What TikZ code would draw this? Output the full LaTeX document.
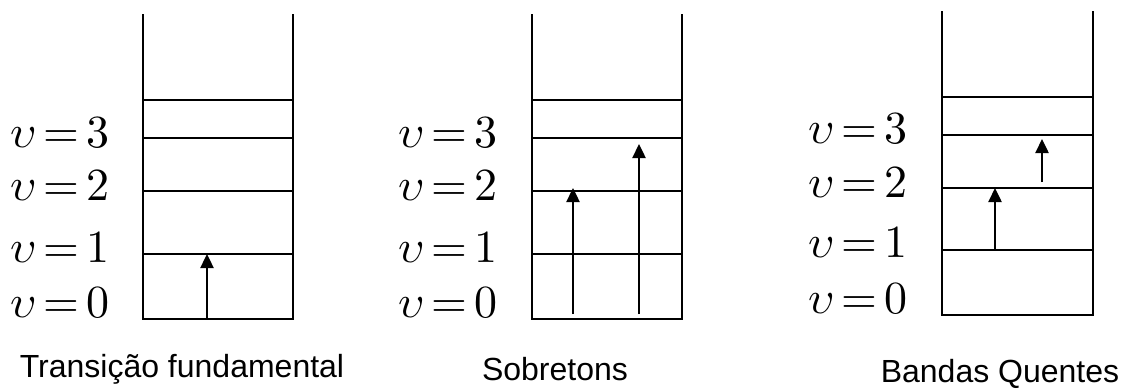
\documentclass[tikz,border=0pt]{standalone}
\usepackage{fontspec}
\usepackage{unicode-math}
\setmathfont{Latin Modern Math}
\setsansfont{Liberation Sans}
\usetikzlibrary{arrows.meta}
\tikzset{
  wall/.style={line width=1.8pt, line cap=rect},
  level/.style={line width=1.8pt},
  trans/.style={line width=2.4pt, -{Triangle[length=14pt,width=13pt]}},
  vlab/.style={anchor=base east, inner sep=0pt, font=\fontsize{46}{46}\selectfont},
  caption/.style={anchor=base, inner sep=0pt, font=\sffamily\fontsize{32}{32}\selectfont}
}
\newcommand{\vlev}[1]{$\upsilon\mskip3mu{=}\mskip3mu#1$}
\begin{document}
\begin{tikzpicture}[x=1pt,y=-1pt]
\useasboundingbox (0,0) rectangle (1131,388);
% ---------- panel 1 ----------
\draw[wall] (143,15) -- (143,319) -- (293,319) -- (293,15);
\foreach \y in {100,138,191,254} \draw[level] (143,\y) -- (293,\y);
\node[vlab] (a3) at (110,147) {\vlev{3}};
\node[vlab] (a2) at (110,200) {\vlev{2}};
\node[vlab] (a1) at (110,262) {\vlev{1}};
\node[vlab] (a0) at (110,317) {\vlev{0}};
\coordinate (p1s) at (207,319);
\coordinate (p1e) at (207,254);
\draw[trans] (p1s) -- (p1e);
\node[caption] (c1) at (182,377) {Transição fundamental};
% ---------- panel 2 ----------
\draw[wall] (532,15) -- (532,319) -- (682,319) -- (682,15);
\foreach \y in {100,138,191,254} \draw[level] (532,\y) -- (682,\y);
\node[vlab] (b3) at (498,147) {\vlev{3}};
\node[vlab] (b2) at (498,200) {\vlev{2}};
\node[vlab] (b1) at (498,262) {\vlev{1}};
\node[vlab] (b0) at (498,317) {\vlev{0}};
\coordinate (p2s) at (573,314);
\coordinate (p2e) at (573,188);
\coordinate (p3s) at (639,314);
\coordinate (p3e) at (639,144);
\draw[trans] (p2s) -- (p2e);
\draw[trans] (p3s) -- (p3e);
\node[caption] (c2) at (555,380) {Sobretons};
% ---------- panel 3 ----------
\draw[wall] (942,12) -- (942,315) -- (1093,315) -- (1093,12);
\foreach \y in {97,135,188,250} \draw[level] (942,\y) -- (1093,\y);
\node[vlab] (d3) at (908,143) {\vlev{3}};
\node[vlab] (d2) at (908,197) {\vlev{2}};
\node[vlab] (d1) at (908,257) {\vlev{1}};
\node[vlab] (d0) at (908,313) {\vlev{0}};
\coordinate (p4s) at (995,250);
\coordinate (p4e) at (995,188);
\coordinate (p5s) at (1042,182);
\coordinate (p5e) at (1042,139);
\draw[trans] (p4s) -- (p4e);
\draw[trans] (p5s) -- (p5e);
\node[caption] (c3) at (1000,382) {Bandas Quentes};
\end{tikzpicture}
\end{document}
